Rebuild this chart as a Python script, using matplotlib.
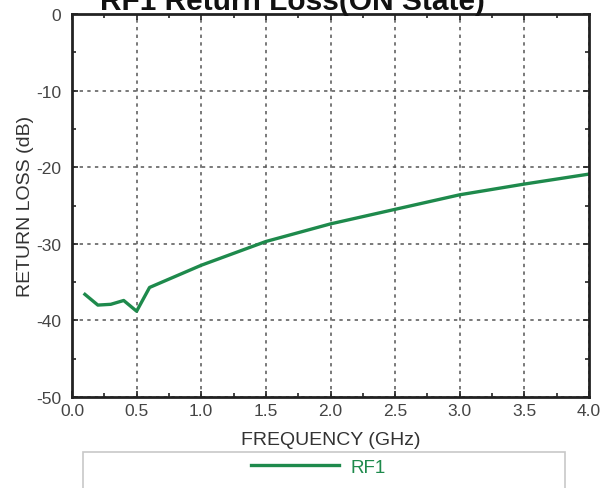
import matplotlib
matplotlib.use("Agg")
import matplotlib.pyplot as plt
from matplotlib.patches import Rectangle
from matplotlib.ticker import MultipleLocator

freq_ghz = [0.1, 0.2, 0.3, 0.4, 0.5, 0.6, 1.0, 1.5, 2.0, 2.5, 3.0, 3.5, 4.0]
rf1_db = [-36.6, -38.0, -37.9, -37.4, -38.8, -35.7, -32.8, -29.7, -27.4, -25.5, -23.6, -22.2, -20.9]
x_ticks = [0.0, 0.5, 1.0, 1.5, 2.0, 2.5, 3.0, 3.5, 4.0]
y_ticks = [0, -10, -20, -30, -40, -50]

plt.rcParams['font.family'] = ['Liberation Sans', 'DejaVu Sans']

W, H = 606, 489
fig = plt.figure(figsize=(W / 100, H / 100), dpi=100)
ax = fig.add_axes([72 / W, 1 - 398 / H, (589 - 72) / W, (398 - 15) / H])

green = '#1e8a4c'
line, = ax.plot(freq_ghz, rf1_db, color=green, lw=2.4, label='RF1')

ax.set_xlim(0, 4)
ax.set_ylim(-50, 0)
ax.set_xticks(x_ticks)
ax.set_xticklabels([f"{v:.1f}" for v in x_ticks])
ax.set_yticks(y_ticks)
ax.set_yticklabels([str(v) for v in y_ticks])
ax.xaxis.set_minor_locator(MultipleLocator(0.25))
ax.yaxis.set_minor_locator(MultipleLocator(5))
ax.tick_params(which='both', direction='in', top=True, right=True, color='#222222')
ax.tick_params(which='major', length=4, width=1.2, labelsize=12.5, labelcolor='#444444')
ax.tick_params(axis='y', which='major', pad=8)
ax.tick_params(axis='x', which='major', pad=4)
ax.tick_params(which='minor', length=3, width=1.2)
ax.grid(True, which='major', color='#555555', linestyle=(0, (2.2, 2.8)), linewidth=1.1)
for s in ax.spines.values():
    s.set_linewidth(2)
    s.set_color('#222222')

ax.set_xlabel('FREQUENCY (GHz)', fontsize=14, color='#333333', labelpad=10)
ax.set_ylabel('RETURN LOSS (dB)', fontsize=14, color='#333333', labelpad=1)

fig.text(0.482, 1 - 10 / H, 'RF1 Return Loss(ON State)', ha='center', va='baseline',
         fontsize=21.5, fontweight='bold', color='#111111')

fig.patches.append(Rectangle((83 / W, -0.05), (565 - 83) / W, 0.05 + (1 - 453 / H),
                             transform=fig.transFigure, fill=False,
                             edgecolor='#c8c8c8', linewidth=1.2))
leg = fig.legend(handles=[line], loc='center', bbox_to_anchor=(0.525, 1 - 468 / H),
                 frameon=False, fontsize=13.5, handlelength=4.7, handletextpad=0.6)
for t in leg.get_texts():
    t.set_color(green)

fig.savefig('out.png', dpi=100)
